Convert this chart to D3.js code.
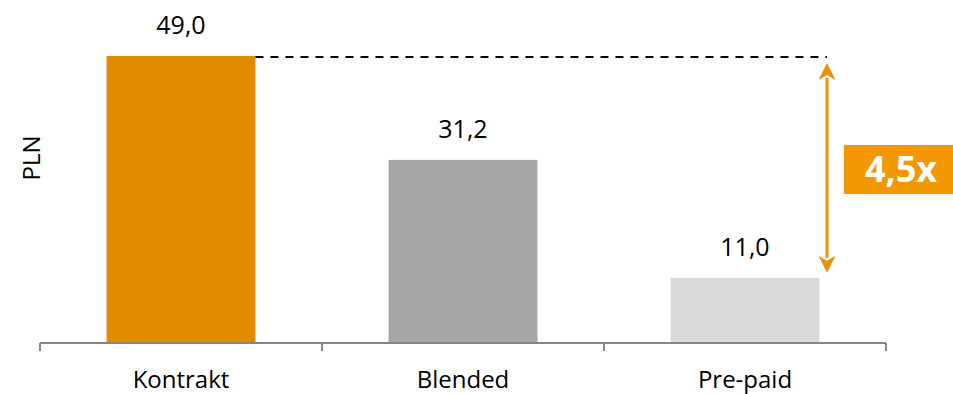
<!DOCTYPE html>
<html>
<head>
<meta charset="utf-8">
<script src="https://cdn.jsdelivr.net/npm/d3@7"></script>
<style>
  html, body { margin: 0; padding: 0; background: #fff; }
  svg { display: block; font-family: "Open Sans", sans-serif; }
</style>
</head>
<body>
<svg id="chart" width="953" height="394"></svg>
<script>
// ARPU by customer segment
const categories = ["Kontrakt", "Blended", "Pre-paid"];
const values = [49.0, 31.2, 11.0];
const valueLabels = ["49,0", "31,2", "11,0"];
const barColors = ["#E38B00", "#A6A6A6", "#D9D9D9"];
const ratioLabel = "4,5x";
const axisTitle = "PLN";

const svg = d3.select("#chart");

const x = d3.scaleBand()
  .domain(categories)
  .range([40, 886])
  .paddingInner(0.472)
  .paddingOuter(0.236);

const y = d3.scaleLinear()
  .domain([0, 49])
  .range([342, 56]);

// bars
svg.selectAll("rect.bar")
  .data(categories)
  .join("rect")
  .attr("class", "bar")
  .attr("x", d => x(d))
  .attr("y", (d, i) => y(values[i]))
  .attr("width", x.bandwidth())
  .attr("height", (d, i) => y(0) - y(values[i]))
  .attr("fill", (d, i) => barColors[i]);

// value labels
svg.selectAll("text.val")
  .data(categories)
  .join("text")
  .attr("class", "val")
  .attr("x", d => x(d) + x.bandwidth() / 2)
  .attr("y", (d, i) => y(values[i]) - 22)
  .attr("text-anchor", "middle")
  .attr("font-size", 25)
  .attr("fill", "#000")
  .text((d, i) => valueLabels[i]);

// category axis with ticks at band boundaries
const axisY = 343;
svg.append("line")
  .attr("x1", 40).attr("x2", 886)
  .attr("y1", axisY).attr("y2", axisY)
  .attr("stroke", "#868686").attr("stroke-width", 2);

const step = x.step();
const boundaries = d3.range(categories.length + 1).map(i => 40 + i * step);
svg.selectAll("line.tick")
  .data(boundaries)
  .join("line")
  .attr("class", "tick")
  .attr("x1", d => d).attr("x2", d => d)
  .attr("y1", axisY).attr("y2", axisY + 8)
  .attr("stroke", "#868686").attr("stroke-width", 2);

svg.selectAll("text.cat")
  .data(categories)
  .join("text")
  .attr("class", "cat")
  .attr("x", d => x(d) + x.bandwidth() / 2)
  .attr("y", 388)
  .attr("text-anchor", "middle")
  .attr("font-size", 24)
  .attr("fill", "#000")
  .text(d => d);

// axis title
svg.append("text")
  .attr("transform", "translate(40,158) rotate(-90)")
  .attr("text-anchor", "middle")
  .attr("font-size", 24)
  .attr("fill", "#000")
  .text(axisTitle);

// comparison: dashed reference line and double arrow
const arrowX = 827;
const topVal = values[0], lowVal = values[2];
svg.append("line")
  .attr("x1", x(categories[0]) + x.bandwidth())
  .attr("x2", arrowX)
  .attr("y1", y(topVal) + 1).attr("y2", y(topVal) + 1)
  .attr("stroke", "#000").attr("stroke-width", 2)
  .attr("stroke-dasharray", "8,7");

const arrowColor = "#E8900A";
const tipTop = y(topVal) + 7;
const tipBot = y(lowVal) - 5;
const head = 17, halfW = 8.5;
svg.append("line")
  .attr("x1", arrowX).attr("x2", arrowX)
  .attr("y1", tipTop + head - 2).attr("y2", tipBot - head + 2)
  .attr("stroke", arrowColor).attr("stroke-width", 3);
svg.append("path")
  .attr("d", `M${arrowX},${tipTop} L${arrowX + halfW},${tipTop + head} L${arrowX},${tipTop + head - 5} L${arrowX - halfW},${tipTop + head} Z`)
  .attr("fill", arrowColor);
svg.append("path")
  .attr("d", `M${arrowX},${tipBot} L${arrowX + halfW},${tipBot - head} L${arrowX},${tipBot - head + 5} L${arrowX - halfW},${tipBot - head} Z`)
  .attr("fill", arrowColor);

// ratio badge
svg.append("rect")
  .attr("x", 844).attr("y", 145)
  .attr("width", 109).attr("height", 49)
  .attr("fill", "#F39800");
svg.append("text")
  .attr("x", 901).attr("y", 182)
  .attr("text-anchor", "middle")
  .attr("font-size", 36)
  .attr("font-weight", "bold")
  .attr("fill", "#fff")
  .text(ratioLabel);
</script>
</body>
</html>
